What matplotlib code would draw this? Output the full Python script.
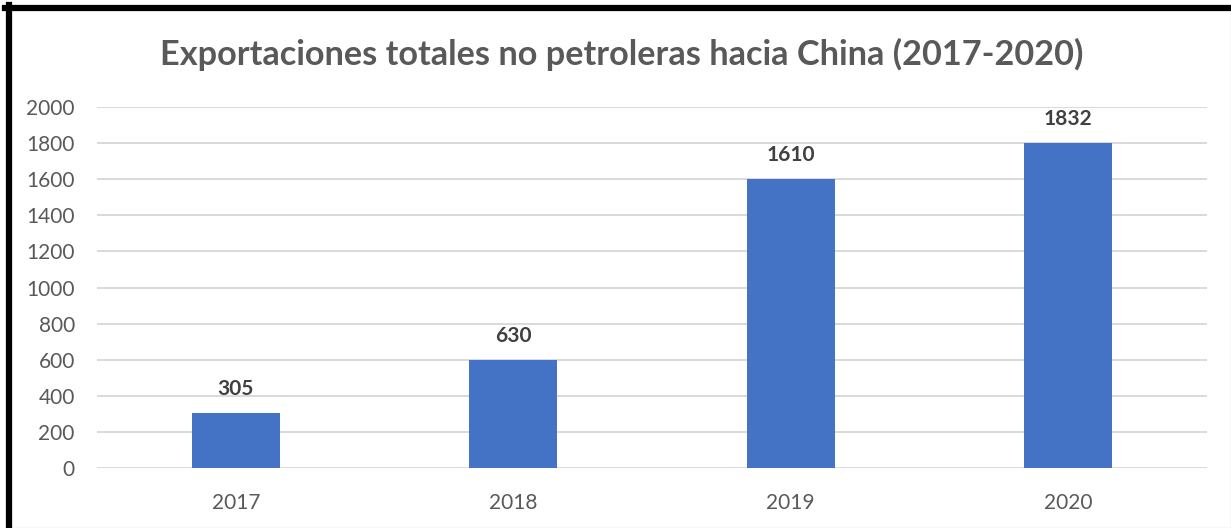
import matplotlib
matplotlib.use("Agg")
import matplotlib.pyplot as plt
from matplotlib.lines import Line2D

plt.rcParams['font.family'] = ['Lato', 'DejaVu Sans']

title = "Exportaciones totales no petroleras hacia China (2017-2020)"
years = ["2017", "2018", "2019", "2020"]
bar_values = [305, 600, 1600, 1800]
label_texts = ["305", "630", "1610", "1832"]
yticks = list(range(0, 2001, 200))

fig = plt.figure(figsize=(12.31, 5.28), dpi=100)
ax = fig.add_axes([0.0788, 0.1127, 0.9017, 0.6852])

x = list(range(len(years)))
bars = ax.bar(x, bar_values, width=0.317, color="#4472C4", zorder=3)
ax.set_xlim(-0.5, len(years) - 0.5)
ax.set_ylim(0, 2000)
ax.set_yticks(yticks)
ax.set_yticklabels([str(v) for v in yticks])
ax.set_xticks(x)
ax.set_xticklabels(years)
ax.grid(axis="y", color="#D9D9D9", linewidth=1.4, zorder=0)
ax.tick_params(axis="both", length=0, labelsize=15, labelcolor="#595959")
ax.tick_params(axis="y", pad=16)
ax.tick_params(axis="x", pad=18)
for s in ax.spines.values():
    s.set_visible(False)

for xi, v, t in zip(x, bar_values, label_texts):
    ax.annotate(t, (xi, v), xytext=(0, 17.5), textcoords="offset points",
                ha="center", va="center", fontsize=15, fontweight="bold",
                color="#404040")

fig.text(0.505, 0.896, title, ha="center", va="center", fontsize=24.7,
         fontweight="bold", color="#595959")

# frame lines
fig.add_artist(Line2D([5/1231, 1], [1 - 8/528, 1 - 8/528], color="black",
                      linewidth=4.5, transform=fig.transFigure))
fig.add_artist(Line2D([8.5/1231, 8.5/1231], [0, 1 - 5/528], color="black",
                      linewidth=4.5, transform=fig.transFigure))
fig.add_artist(Line2D([12/1231, 1], [0.5/528, 0.5/528], color="#E0E0E0",
                      linewidth=1, transform=fig.transFigure))
fig.add_artist(Line2D([1 - 0.5/1231, 1 - 0.5/1231], [0, 1 - 11/528], color="#E0E0E0",
                      linewidth=1, transform=fig.transFigure))

fig.savefig("out.png", dpi=100)
